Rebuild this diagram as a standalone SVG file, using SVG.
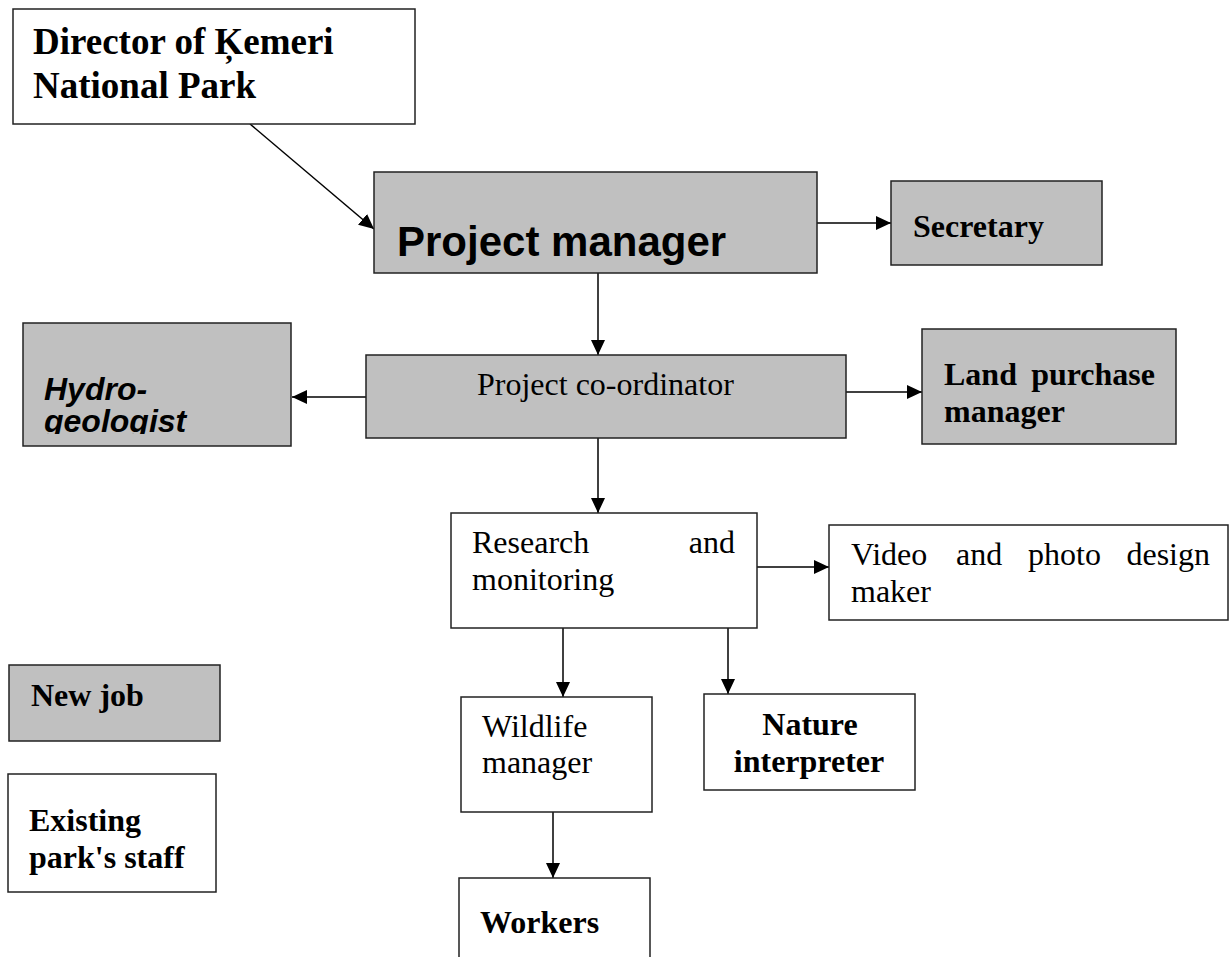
<svg xmlns="http://www.w3.org/2000/svg" width="1229" height="957" viewBox="0 0 1229 957">
<style>
.box{stroke:#222;stroke-width:1.5}
.g{fill:#c0c0c0}
.w{fill:#fff}
.tr{font-family:"Liberation Serif",serif;font-size:32px;fill:#000}
.tb{font-family:"Liberation Serif",serif;font-size:32px;font-weight:bold;fill:#000}
.con{stroke:#000;stroke-width:1.5;fill:none;marker-end:url(#ah)}
</style>
<defs>
<marker id="ah" markerUnits="userSpaceOnUse" markerWidth="16" markerHeight="14" refX="15" refY="7" orient="auto">
<path d="M0,0 L15,7 L0,14 Z" fill="#000"/>
</marker>
<clipPath id="hclip"><rect x="23" y="323" width="268" height="111"/></clipPath>
</defs>
<rect width="1229" height="957" fill="#fff"/>
<g id="connectors">
<line class="con" x1="250" y1="124" x2="374" y2="229"/>
<line class="con" x1="817" y1="223" x2="891" y2="223"/>
<line class="con" x1="598" y1="273" x2="598" y2="355"/>
<line class="con" x1="366" y1="397" x2="292" y2="397"/>
<line class="con" x1="846" y1="392" x2="922" y2="392"/>
<line class="con" x1="598" y1="438" x2="598" y2="513"/>
<line class="con" x1="757" y1="567" x2="829" y2="567"/>
<line class="con" x1="563" y1="628" x2="563" y2="697"/>
<line class="con" x1="728" y1="628" x2="728" y2="694"/>
<line class="con" x1="553" y1="812" x2="553" y2="878"/>
</g>
<g id="director">
<rect class="box w" x="13" y="9" width="402" height="115"/>
<text class="tb" style="font-size:37px" x="33" y="54">Director of Ķemeri</text>
<text class="tb" style="font-size:37px" x="33" y="98">National Park</text>
</g>
<g id="project-manager">
<rect class="box g" x="374" y="172" width="443" height="101"/>
<text x="397" y="256" style="font-family:'Liberation Sans',Arial,sans-serif;font-size:42px;font-weight:bold">Project manager</text>
</g>
<g id="secretary">
<rect class="box g" x="891" y="181" width="211" height="84"/>
<text class="tb" x="913" y="237">Secretary</text>
</g>
<g id="hydrogeologist">
<rect class="box g" x="23" y="323" width="268" height="123"/>
<g clip-path="url(#hclip)" style="font-family:'Liberation Sans',Arial,sans-serif;font-size:32px;font-weight:bold;font-style:italic">
<text x="44" y="400">Hydro-</text>
<text x="44" y="432">geologist</text>
</g>
</g>
<g id="coordinator">
<rect class="box g" x="366" y="355" width="480" height="83"/>
<text class="tr" x="477" y="395">Project co-ordinator</text>
</g>
<g id="land-purchase-manager">
<rect class="box g" x="922" y="329" width="254" height="115"/>
<text class="tb" x="944" y="385">Land</text>
<text class="tb" x="1155" y="385" text-anchor="end">purchase</text>
<text class="tb" x="944" y="422">manager</text>
</g>
<g id="research">
<rect class="box w" x="451" y="513" width="306" height="115"/>
<text class="tr" x="472" y="553">Research</text>
<text class="tr" x="735" y="553" text-anchor="end">and</text>
<text class="tr" x="472" y="590">monitoring</text>
</g>
<g id="video">
<rect class="box w" x="829" y="525" width="399" height="95"/>
<text class="tr" x="851" y="565">Video</text>
<text class="tr" x="956" y="565">and</text>
<text class="tr" x="1028" y="565">photo</text>
<text class="tr" x="1210" y="565" text-anchor="end">design</text>
<text class="tr" x="851" y="602">maker</text>
</g>
<g id="wildlife">
<rect class="box w" x="461" y="697" width="191" height="115"/>
<text class="tr" x="482" y="737">Wildlife</text>
<text class="tr" x="482" y="773">manager</text>
</g>
<g id="nature">
<rect class="box w" x="704" y="694" width="211" height="96"/>
<text class="tb" x="810" y="735" text-anchor="middle">Nature</text>
<text class="tb" x="809" y="772" text-anchor="middle">interpreter</text>
</g>
<g id="workers">
<rect class="box w" x="459" y="878" width="191" height="90"/>
<text class="tb" x="480" y="933">Workers</text>
</g>
<g id="new-job">
<rect class="box g" x="9" y="665" width="211" height="76"/>
<text class="tb" x="31" y="706">New job</text>
</g>
<g id="existing">
<rect class="box w" x="8" y="774" width="208" height="118"/>
<text class="tb" x="29" y="831">Existing</text>
<text class="tb" x="29" y="868">park's staff</text>
</g>
</svg>
